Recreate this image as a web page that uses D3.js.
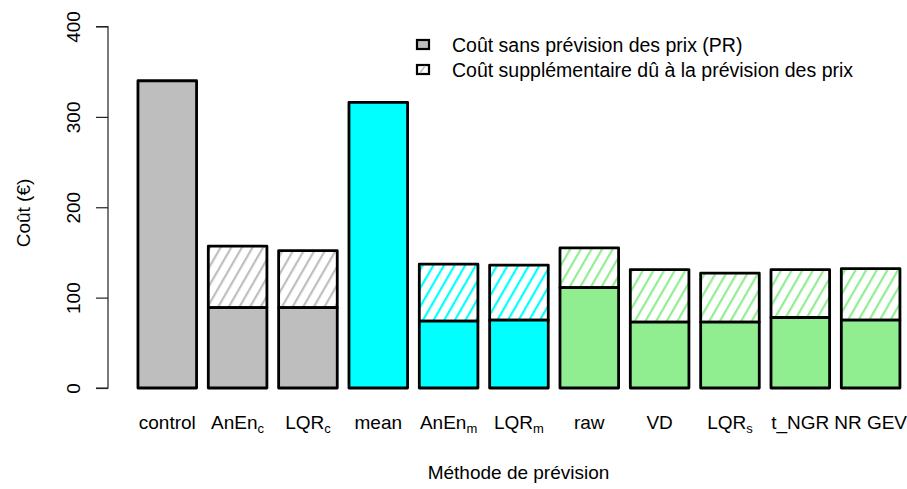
<!DOCTYPE html>
<html>
<head>
<meta charset="utf-8">
<script src="https://cdn.jsdelivr.net/npm/d3@7"></script>
<style>
  html, body { margin: 0; padding: 0; background: #fff; }
  svg { display: block; font-family: "Liberation Sans", Arial, sans-serif; }
</style>
</head>
<body>
<svg id="chart" width="907" height="489"></svg>
<script>
// ---- data ----
const categories = ["control", "AnEn_c", "LQR_c", "mean", "AnEn_m", "LQR_m", "raw", "VD", "LQR_s", "t_NGR", "NR GEV"];
const labelBase = ["control", "AnEn", "LQR", "mean", "AnEn", "LQR", "raw", "VD", "LQR", "t_NGR", "NR GEV"];
const labelSub  = ["", "c", "c", "", "m", "m", "", "", "s", "", ""];
const costPR    = [340, 89, 89, 316, 74, 75, 111, 73, 73, 78, 75];   // coût sans prévision des prix
const costExtra = [0, 68, 63, 0, 63, 61, 44, 58, 54, 53, 57];        // coût supplémentaire
const barColors = ["#BEBEBE", "#BEBEBE", "#BEBEBE", "#00FFFF", "#00FFFF", "#00FFFF",
                   "#90EE90", "#90EE90", "#90EE90", "#90EE90", "#90EE90"];
const yTicks = [0, 100, 200, 300, 400];
const legendLabels = ["Coût sans prévision des prix (PR)", "Coût supplémentaire dû à la prévision des prix"];
const yTitle = "Coût (€)";
const xTitle = "Méthode de prévision";

// ---- chart ----
const svg = d3.select("#chart");
const FS = 19;

const x = d3.scaleBand().domain(categories).range([132.1, 905.8])
  .paddingInner(0.2 / 1.2).paddingOuter(0.1 / 1.2);
const y = d3.scaleLinear().domain([0, 400]).range([388, 26.5]);

// hatch patterns (lines at 60 degrees, "/")
const defs = svg.append("defs");
const uniqueColors = Array.from(new Set(barColors));
uniqueColors.forEach((c, i) => {
  const p = defs.append("pattern")
    .attr("id", "hatch" + i)
    .attr("patternUnits", "userSpaceOnUse")
    .attr("width", 9.2).attr("height", 20)
    .attr("patternTransform", "rotate(30)");
  p.append("rect").attr("width", 9.2).attr("height", 20).attr("fill", "#fff");
  p.append("line").attr("x1", 2).attr("y1", 0).attr("x2", 2).attr("y2", 20)
    .attr("stroke", c).attr("stroke-width", 2.2);
});
const hatchId = c => "url(#hatch" + uniqueColors.indexOf(c) + ")";

const data = categories.map((k, i) => ({ k, pr: costPR[i], ex: costExtra[i], col: barColors[i], i }));

// extra (hatched) part
svg.append("g").selectAll("rect").data(data.filter(d => d.ex > 0)).join("rect")
  .attr("x", d => x(d.k)).attr("width", x.bandwidth())
  .attr("y", d => y(d.pr + d.ex)).attr("height", d => y(d.pr) - y(d.pr + d.ex))
  .attr("fill", d => hatchId(d.col))
  .attr("stroke", "#000").attr("stroke-width", 2.8).attr("stroke-linejoin", "round");

// base part
svg.append("g").selectAll("rect").data(data).join("rect")
  .attr("x", d => x(d.k)).attr("width", x.bandwidth())
  .attr("y", d => y(d.pr)).attr("height", d => y(0) - y(d.pr))
  .attr("fill", d => d.col)
  .attr("stroke", "#000").attr("stroke-width", 2.8).attr("stroke-linejoin", "round");

// y axis
const yAxis = svg.append("g").attr("transform", "translate(108,0)")
  .call(d3.axisLeft(y).tickValues(yTicks).tickSize(12).tickFormat(d3.format("d")));
yAxis.select(".domain").attr("stroke", "#222").attr("stroke-width", 1.2)
  .attr("d", `M-12,${y(400)}H0V${y(0)}H-12`);
yAxis.selectAll(".tick line").attr("stroke", "#222").attr("stroke-width", 1.2);
yAxis.selectAll(".tick text")
  .attr("font-size", FS).attr("fill", "#000")
  .attr("x", null).attr("dy", null)
  .attr("text-anchor", "middle")
  .attr("transform", "translate(-28,0) rotate(-90)");

// x labels
const xl = svg.append("g").selectAll("text").data(data).join("text")
  .attr("x", d => x(d.k) + x.bandwidth() / 2).attr("y", 429)
  .attr("text-anchor", "middle").attr("font-size", FS).attr("fill", "#000");
xl.append("tspan").text(d => labelBase[d.i]);
xl.filter(d => labelSub[d.i] !== "").append("tspan")
  .attr("font-size", 13).attr("dy", 4).text(d => labelSub[d.i]);

// axis titles
svg.append("text").attr("x", 518.5).attr("y", 479).attr("text-anchor", "middle")
  .attr("font-size", FS).attr("fill", "#000").text(xTitle);
svg.append("text").attr("transform", "translate(30,213) rotate(-90)")
  .attr("text-anchor", "middle").attr("font-size", FS).attr("fill", "#000").text(yTitle);

// legend
const lg = svg.append("g");
const rowsY = [45, 70];
lg.append("rect").attr("x", 417).attr("y", rowsY[0] - 5).attr("width", 12).attr("height", 9)
  .attr("fill", "#BEBEBE").attr("stroke", "#000").attr("stroke-width", 2.2);
lg.append("rect").attr("x", 417).attr("y", rowsY[1] - 5).attr("width", 12).attr("height", 9)
  .attr("fill", "#fff").attr("stroke", "#000").attr("stroke-width", 2.2);
lg.append("line").attr("x1", 420).attr("y1", rowsY[1] + 3).attr("x2", 425).attr("y2", rowsY[1] - 4)
  .attr("stroke", "#BEBEBE").attr("stroke-width", 1.6);
legendLabels.forEach((t, i) => {
  lg.append("text").attr("x", 452).attr("y", rowsY[i]).attr("dy", "0.35em")
    .attr("font-size", 19.5).attr("fill", "#000").text(t);
});
</script>
</body>
</html>
